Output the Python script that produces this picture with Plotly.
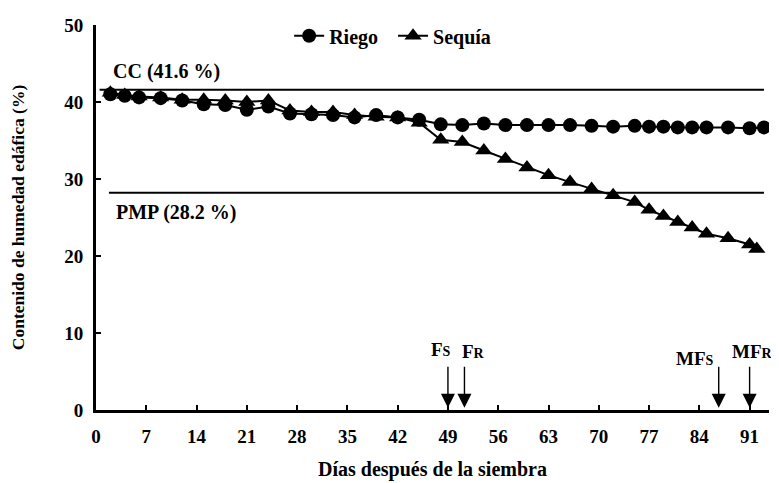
import plotly.graph_objects as go

# Data
riego_dias = [2, 4, 6, 9, 12, 15, 18, 21, 24, 27, 30, 33, 36, 39, 42, 45, 48, 51, 54, 57,
              60, 63, 66, 69, 72, 75, 77, 79, 81, 83, 85, 88, 91, 93]
riego_hum = [41.0, 40.8, 40.6, 40.5, 40.2, 39.7, 39.6, 39.0, 39.4, 38.5, 38.4, 38.3, 38.0, 38.3,
             38.0, 37.7, 37.1, 37.0, 37.2, 37.0, 37.0, 37.0, 37.0, 36.9, 36.8, 36.9, 36.8, 36.8,
             36.7, 36.7, 36.7, 36.7, 36.6, 36.7]
sequia_dias = [2, 4, 6, 9, 12, 15, 18, 21, 24, 27, 30, 33, 36, 39, 42, 45, 48, 51, 54, 57,
               60, 63, 66, 69, 72, 75, 77, 79, 81, 83, 85, 88, 91, 92]
sequia_hum = [41.2, 40.9, 40.7, 40.6, 40.3, 40.3, 40.2, 40.0, 40.2, 38.9, 38.7, 38.7, 38.3, 38.1,
              38.0, 37.3, 35.1, 34.8, 33.7, 32.6, 31.5, 30.5, 29.6, 28.7, 27.9, 27.0, 26.0, 25.2,
              24.4, 23.7, 22.9, 22.3, 21.5, 20.9]
cc_valor = 41.6
pmp_valor = 28.2
eventos_x = [49, 51.3, 86.7, 91]
eventos_txt = ["F<span style='font-size:14px'>S</span>", "F<span style='font-size:14px'>R</span>",
               "MF<span style='font-size:14px'>S</span>", "MF<span style='font-size:14px'>R</span>"]
x_ticks = list(range(0, 92, 7))
y_ticks = [0, 10, 20, 30, 40, 50]

FONT = "Liberation Serif"
fig = go.Figure()

fig.add_trace(go.Scatter(x=[0.5, 93], y=[cc_valor, cc_valor], mode="lines",
                         line=dict(color="black", width=2), showlegend=False, hoverinfo="skip"))
fig.add_trace(go.Scatter(x=[1.8, 93], y=[pmp_valor, pmp_valor], mode="lines",
                         line=dict(color="black", width=2), showlegend=False, hoverinfo="skip"))

fig.add_trace(go.Scatter(x=riego_dias, y=riego_hum, mode="lines+markers", name="Riego\u2002",
                         line=dict(color="black", width=2),
                         marker=dict(symbol="circle", size=14, color="black")))
fig.add_trace(go.Scatter(x=sequia_dias, y=sequia_hum, mode="lines+markers", name="Sequía",
                         line=dict(color="black", width=2),
                         marker=dict(symbol="triangle-up", size=15, color="black")))

fig.add_annotation(x=2.1, y=44.0, xref="x", yref="y", text="CC (41.6 %)", showarrow=False,
                   xanchor="left", font=dict(family=FONT, size=20, color="black", weight="bold"))
fig.add_annotation(x=2.5, y=25.6, xref="x", yref="y", text="PMP (28.2 %)", showarrow=False,
                   xanchor="left", font=dict(family=FONT, size=20, color="black", weight="bold"))

label_x = [48.0, 52.6, 83.4, 91.4]
label_y = [7.9, 7.6, 6.7, 7.6]
for xv, txt, lx, ly in zip(eventos_x, eventos_txt, label_x, label_y):
    fig.add_annotation(x=xv, y=0.3, ax=xv, ay=5.8, xref="x", yref="y", axref="x", ayref="y",
                       showarrow=True, arrowhead=2, arrowsize=2.0, arrowwidth=1.4,
                       arrowcolor="black", text="")
    fig.add_annotation(x=lx, y=ly, xref="x", yref="y", text=txt, showarrow=False,
                       font=dict(family=FONT, size=19, color="black", weight="bold"))

fig.update_layout(
    width=771, height=475,
    margin=dict(l=88, r=10, t=8, b=73),
    plot_bgcolor="white", paper_bgcolor="white",
    font=dict(family=FONT, size=19, color="black", weight="bold"),
    legend=dict(orientation="h", x=0.287, y=0.972, xanchor="left", yanchor="middle",
                bgcolor="rgba(0,0,0,0)", font=dict(family=FONT, size=20, weight="bold"),
                itemwidth=30, tracegroupgap=0),
    showlegend=True,
)
fig.update_xaxes(range=[0, 93.7], tickvals=x_ticks, ticks="inside", ticklen=5, tickwidth=2,
                 tickcolor="black", showline=True, linecolor="black", linewidth=3,
                 showgrid=False, zeroline=False, automargin=False, ticklabelstandoff=7,
                 tickfont=dict(family=FONT, size=19, weight="bold"),
                 title=dict(text="Días después de la siembra", standoff=17,
                            font=dict(family=FONT, size=20, weight="bold")))
fig.update_yaxes(range=[0, 50], tickvals=y_ticks, ticks="inside", ticklen=5, tickwidth=2,
                 tickcolor="black", showline=True, linecolor="black", linewidth=3,
                 showgrid=False, zeroline=False, automargin=False, ticklabelstandoff=6,
                 tickfont=dict(family=FONT, size=19, weight="bold"),
                 title=dict(text="Contenido de humedad edáfica (%)", standoff=39,
                            font=dict(family=FONT, size=17.5, weight="bold")))

fig.write_html("out.html")
